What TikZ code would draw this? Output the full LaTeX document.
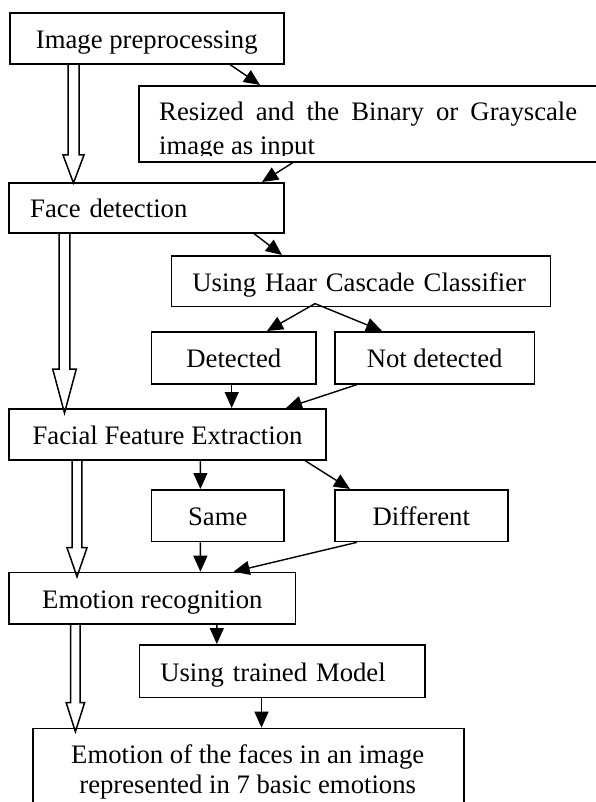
\documentclass[tikz,border=0pt]{standalone}
\usepackage{fontspec}
\setmainfont{Liberation Serif}
\usetikzlibrary{arrows.meta,calc}

% Hollow block arrow: #1 x of axis, #2 source node, #3 target node,
% #4 half shaft width, #5 half head width, #6 head length, #7 overshoot
\newcommand\wideflow[7]{%
  \draw[wide] let \p1=(#2.south), \p2=(#3.north) in
    ({#1pt-#4pt},\y1) -- ({#1pt-#4pt},{\y2-#7pt+#6pt})
    -- ({#1pt-#5pt},{\y2-#7pt+#6pt}) -- (#1pt,{\y2-#7pt})
    -- ({#1pt+#5pt},{\y2-#7pt+#6pt}) -- ({#1pt+#4pt},{\y2-#7pt+#6pt})
    -- ({#1pt+#4pt},\y1);%
}

\begin{document}
\begin{tikzpicture}[x=1pt,y=-1pt,
  lbl/.style={font=\fontsize{26.7}{32}\selectfont},
  box/.style={draw, line width=1.6pt, inner sep=0pt, text height=22pt,
    text depth=2pt, anchor=north west, lbl},
  cbox/.style 2 args={box, minimum width=#1pt, minimum height=#2pt},
  lbox/.style 2 args={box, minimum height=#2pt, text width=#1pt,
    inner xsep=21pt, align=left},
  flow/.style={line width=1.4pt, -{Triangle[length=16pt,width=14pt]}},
  wide/.style={draw, line width=1.5pt, line join=miter},
  txt/.style={inner sep=0pt, lbl}
]
\useasboundingbox (0,0) rectangle (595,802);

% boxes
\node[cbox={274}{51}] (pre) at (9,12) {Image preprocessing};
\node[cbox={467}{76}] (resz) at (138,85) {};
\begin{scope}
  \clip (138,85) rectangle (600,155.5);
  \node[txt, anchor=base west] (rl1) at (159,121)
    {\makebox[418pt][s]{Resized and the Binary or Grayscale}};
  \node[txt, anchor=base west] (rl2) at (159,155) {image as input};
\end{scope}
\node[lbox={232.6}{50}] (face) at (8.4,182) {Face detection};
\node[lbox={337}{50.7}] (haar) at (170.6,255) {Using Haar Cascade Classifier};
\node[cbox={164.5}{52}] (det) at (150.8,331) {Detected};
\node[cbox={199.6}{52}] (ndet) at (334,331) {Not detected};
\node[cbox={316.6}{51}] (fe) at (8.4,408) {Facial Feature Extraction};
\node[cbox={132.4}{51.7}] (same) at (150.8,489) {Same};
\node[cbox={172.9}{51.7}] (diff) at (334,489) {Different};
\node[cbox={286.3}{51.3}] (er) at (8.4,571.7) {Emotion recognition};
\node[lbox={243.9}{52.7}] (tm) at (138.5,644) {Using trained Model};
\node[cbox={430.6}{110}] (out) at (32.4,727.7) {};
\node[txt, anchor=base] (ol1) at (247.7,763.3) {Emotion of the faces in an image};
\node[txt, anchor=base] (ol2) at (247.7,793.3) {represented in 7 basic emotions};

% main flow
\wideflow{73.5}{pre}{face}{5.5}{10.5}{28}{1}
\wideflow{64.5}{face}{fe}{5.3}{11.8}{44}{5}
\wideflow{77}{fe}{er}{4.8}{10}{29}{5}
\wideflow{75.4}{er}{out}{4.8}{9.2}{29}{4}

% side branches
\draw[flow] ([xshift=221pt]pre.south west) -- ([xshift=122pt]resz.north west);
\draw[flow] ([xshift=155pt]resz.south west) -- ([xshift=253.6pt]face.north west);
\draw[flow] ([xshift=245.6pt]face.south west) -- ([xshift=111.4pt]haar.north west);
\coordinate (fork) at ([xshift=144.4pt,yshift=3.7pt]haar.south west);
\draw[flow] (fork) -- ([xshift=116.2pt]det.north west);
\draw[flow] (fork) -- ([xshift=48pt]ndet.north west);
\draw[flow] ([xshift=80.9pt]det.south west) -- ([xshift=223.3pt]fe.north west);
\draw[flow] ([xshift=23pt]ndet.south west) -- ([xshift=277.6pt]fe.north west);
\draw[flow] ([xshift=192pt]fe.south west) -- ([xshift=49.6pt]same.north west);
\draw[flow] ([xshift=296.6pt]fe.south west) -- ([xshift=16pt]diff.north west);
\draw[flow] ([xshift=49.6pt]same.south west) -- ([xshift=192pt]er.north west);
\draw[flow] ([xshift=23pt]diff.south west) -- ([xshift=225.2pt]er.north west);
\draw[flow] ([xshift=208.4pt]er.south west) -- ([xshift=78.3pt]tm.north west);
\draw[flow] ([xshift=123pt]tm.south west) -- ([xshift=229.1pt]out.north west);
\end{tikzpicture}
\end{document}
